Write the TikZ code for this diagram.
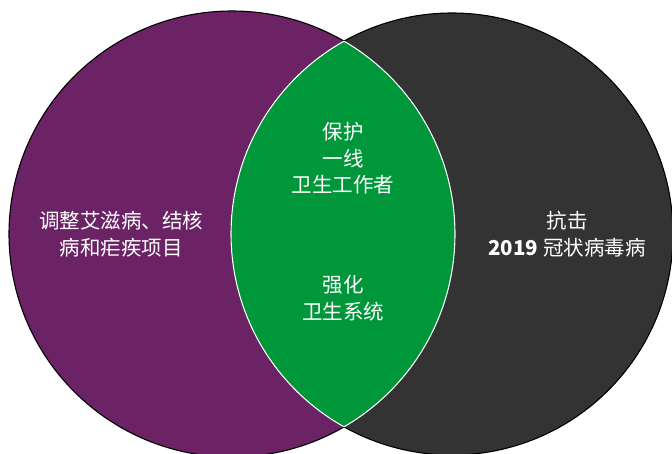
\documentclass[tikz,border=0pt]{standalone}
\usepackage{fontspec}
\setmainfont{Noto Sans CJK SC}
\definecolor{vpurple}{HTML}{6B2366}
\definecolor{vgray}{HTML}{333333}
\definecolor{vgreen}{HTML}{00963A}
\begin{document}
\begin{tikzpicture}[x=1pt,y=-1pt,
  lbl/.style={text=white,align=center,inner sep=0pt,font=\fontsize{20.5}{26.7}\selectfont}]
\useasboundingbox (0,0) rectangle (672,454);
\clip (0,0) rectangle (672,454);
\coordinate (cl) at (232,234);
\coordinate (cr) at (452,234);
\fill[vpurple] (cl) circle[radius=223];
\fill[vgray] (cr) circle[radius=221];
\draw[black,line width=1.1pt] (cl) circle[radius=223];
\draw[black,line width=1.1pt] (cr) circle[radius=221];
\begin{scope}
  \clip (cl) circle[radius=223];
  \fill[vgreen] (cr) circle[radius=221];
  \draw[white,line width=1.1pt] (cr) circle[radius=221];
\end{scope}
\begin{scope}
  \clip (cr) circle[radius=221];
  \draw[white,line width=1.1pt] (cl) circle[radius=223];
\end{scope}
\node[lbl] (left) at (121,234) {调整艾滋病、结核\\病和疟疾项目};
\node[lbl] (right) at (567,234) {抗击\\{\bfseries 2019} 冠状病毒病};
\node[lbl] (top) at (343,158.5) {保护\\一线\\卫生工作者};
\node[lbl] (bot) at (343,298.4) {强化\\卫生系统};
\end{tikzpicture}
\end{document}
